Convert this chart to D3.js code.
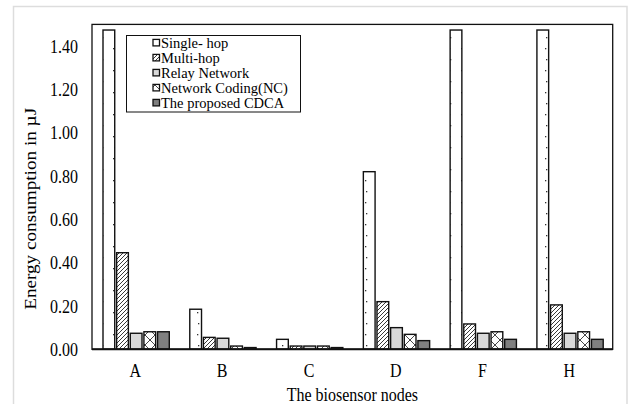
<!DOCTYPE html>
<html><head><meta charset="utf-8">
<script src="https://cdn.jsdelivr.net/npm/d3@7"></script>
<style>body{margin:0;background:#fff}svg{display:block}text{font-family:"Liberation Serif","Times New Roman",serif;fill:#000}</style>
</head><body><svg id="c" width="628" height="404"></svg>
<script>
const categories = ["A","B","C","D","F","H"];
const seriesNames = ["Single- hop","Multi-hop","Relay Network","Network Coding(NC)","The proposed CDCA"];
const singleHop = [1.474,0.185,0.046,0.82,1.474,1.474];
const multiHop  = [0.446,0.055,0.015,0.22,0.117,0.205];
const relayNet  = [0.074,0.051,0.015,0.10,0.074,0.074];
const netCoding = [0.081,0.015,0.015,0.069,0.081,0.081];
const cdca      = [0.081,0.008,0.008,0.04,0.046,0.046];
const yTicks = [0,0.2,0.4,0.6,0.8,1.0,1.2,1.4];

const series = [singleHop, multiHop, relayNet, netCoding, cdca];
const svg = d3.select("#c");
const defs = svg.append("defs");
const pDots = defs.append("pattern").attr("id","pDots").attr("patternUnits","userSpaceOnUse").attr("width",12).attr("height",22);
pDots.append("rect").attr("width",12).attr("height",22).attr("fill","#fff");
pDots.append("rect").attr("x",5).attr("y",4).attr("width",1.3).attr("height",1.3).attr("fill","#333");
pDots.append("rect").attr("x",6).attr("y",15).attr("width",1.3).attr("height",1.3).attr("fill","#333");
const pHatch = defs.append("pattern").attr("id","pHatch").attr("patternUnits","userSpaceOnUse").attr("width",4).attr("height",4);
pHatch.append("rect").attr("width",4).attr("height",4).attr("fill","#fff");
pHatch.append("path").attr("d","M-1,1 L1,-1 M0,4 L4,0 M3,5 L5,3").attr("stroke","#222").attr("stroke-width",0.9);
const pCross = defs.append("pattern").attr("id","pCross").attr("patternUnits","userSpaceOnUse").attr("width",10).attr("height",10);
pCross.append("rect").attr("width",10).attr("height",10).attr("fill","#fff");
pCross.append("path").attr("d","M0,0 L10,10 M10,0 L0,10").attr("stroke","#333").attr("stroke-width",0.9);
const fills = ["url(#pDots)","url(#pHatch)","#d9d9d9","url(#pCross)","#808080"];

const L=92, R=612.7, T=24.4, B=349.3;
const x = d3.scaleBand().domain(categories).range([L,R]).paddingInner(0).paddingOuter(0);
const x1 = d3.scaleBand().domain(d3.range(series.length)).range([11,x.bandwidth()-9.5]).paddingInner(0.14);
const y = d3.scaleLinear().domain([0,1.5]).range([B,T]);
const sy = 1.2;

svg.append("rect").attr("x",13.5).attr("y",6.5).attr("width",613.5).attr("height",420).attr("fill","none").attr("stroke","#ddd").attr("stroke-width",1.5);

series.forEach((vals,si)=>{
  svg.append("g").selectAll("rect").data(categories).join("rect")
    .attr("x",(c)=>x(c)+x1(si)).attr("width",x1.bandwidth())
    .attr("y",(c,i)=>y(vals[i])).attr("height",(c,i)=>B-y(vals[i]))
    .attr("fill",fills[si]).attr("stroke","#111").attr("stroke-width",1.4);
});

svg.append("rect").attr("x",L).attr("y",T).attr("width",R-L).attr("height",B-T).attr("fill","none").attr("stroke","#111").attr("stroke-width",1.3);
svg.append("line").attr("x1",L).attr("x2",R).attr("y1",B).attr("y2",B).attr("stroke","#111").attr("stroke-width",2);

const yAxis = d3.axisLeft(y).tickValues(yTicks).tickFormat(d3.format(".2f")).tickSize(0).tickPadding(14);
const ga = svg.append("g").attr("transform",`translate(${L},0)`).call(yAxis);
ga.select(".domain").remove();
ga.selectAll(".tick text").attr("font-size",16).attr("font-family","Liberation Serif").attr("fill","#000")
  .attr("transform",`scale(1,${sy})`).attr("dy","0.32em");

const xAxis = d3.axisBottom(x).tickSize(0).tickPadding(0);
const gx = svg.append("g").attr("transform",`translate(0,${B})`).call(xAxis);
gx.select(".domain").remove();
gx.selectAll(".tick text").attr("font-size",16).attr("font-family","Liberation Serif").attr("fill","#000")
  .attr("y",0).attr("dy",0).attr("transform",`translate(0,28) scale(1,${sy})`);

svg.append("g").attr("transform",`translate(${(L+R)/2},401) scale(1,${sy})`)
  .append("text").attr("text-anchor","middle").attr("font-size",16).text("The biosensor nodes");
svg.append("g").attr("transform",`translate(36,${(T+B)/2+22}) scale(1,${sy})`)
  .append("text").attr("transform","rotate(-90)").attr("text-anchor","middle").attr("font-size",16).text("Energy consumption in \u00b5J");

const lg = svg.append("g");
lg.append("rect").attr("x",126.5).attr("y",35.5).attr("width",174).attr("height",76.5).attr("fill","#fff").attr("stroke","#111").attr("stroke-width",1);
seriesNames.forEach((n,i)=>{
  const cy = 42.7 + i*15;
  lg.append("rect").attr("x",153).attr("y",cy-3.3).attr("width",6.5).attr("height",6.5)
    .attr("fill",fills[i]).attr("stroke","#111").attr("stroke-width",1.3);
  lg.append("text").attr("x",161).attr("y",cy).attr("font-size",14.5).attr("dy","0.35em").text(n);
});
</script></body></html>
